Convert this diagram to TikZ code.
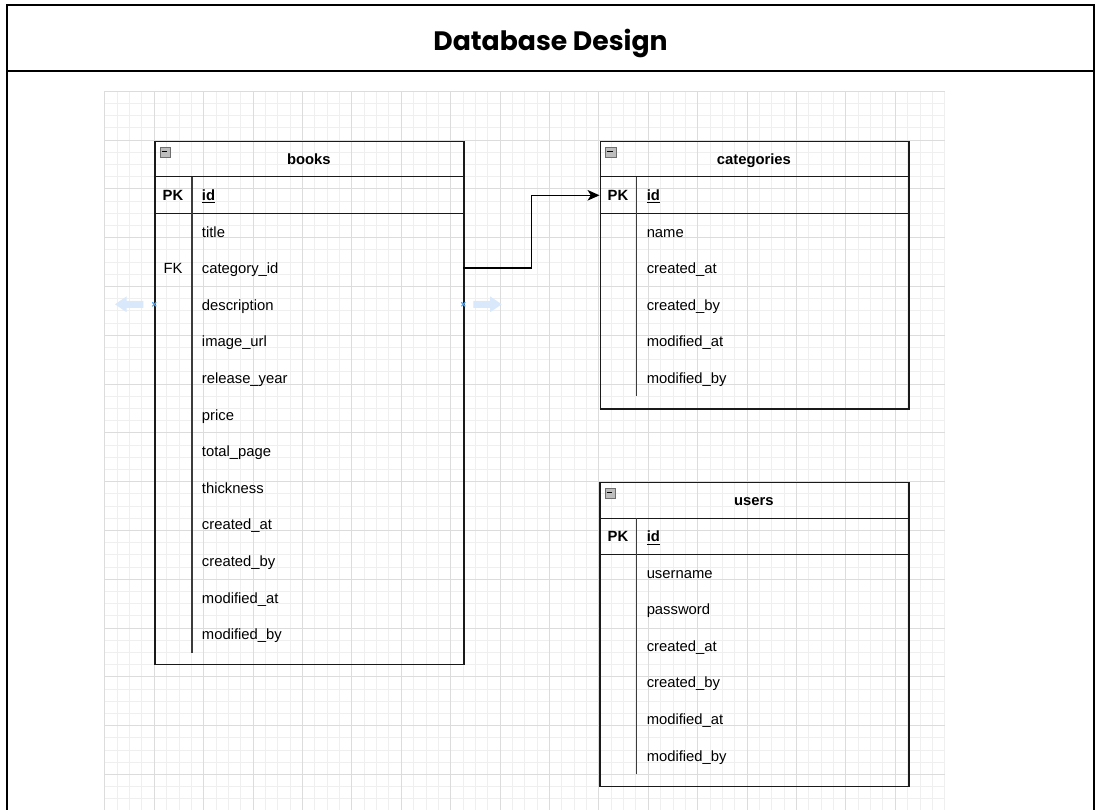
\documentclass[tikz,border=0pt]{standalone}
\usepackage{fontspec}
\setmainfont{Liberation Sans}
\newfontfamily\poppins{Poppins}
\usetikzlibrary{arrows.meta,calc}

\definecolor{gridminor}{HTML}{EFEFEF}
\definecolor{gridmajor}{HTML}{DCDCDC}
\definecolor{hoverblue}{HTML}{DAE8FC}
\definecolor{crossblue}{HTML}{4DA3F0}
\definecolor{linegray}{HTML}{1A1A1A}
\definecolor{iconfill}{HTML}{BDBDBD}
\definecolor{iconline}{HTML}{6E6E6E}

\tikzset{
  tbl/.style={draw=linegray, line width=1pt, anchor=north west, inner sep=0pt},
  sepline/.style={draw=linegray, line width=1pt},
  coldiv/.style={draw=linegray!85, line width=1.2pt},
  fld/.style={anchor=base west, inner sep=0pt, font=\fontsize{11.1pt}{13pt}\selectfont},
  hdr/.style={anchor=base, inner sep=0pt, font=\fontsize{11.1pt}{13pt}\selectfont\bfseries},
  keylbl/.style={anchor=base, inner sep=0pt, font=\fontsize{11.1pt}{13pt}\selectfont\bfseries},
  fklbl/.style={anchor=base, inner sep=0pt, font=\fontsize{11.1pt}{13pt}\selectfont},
  pkfld/.style={anchor=base west, inner sep=0pt, font=\fontsize{11.1pt}{13pt}\selectfont\bfseries},
  minusicon/.style={draw=iconline, fill=iconfill, line width=0.6pt, anchor=north west, inner sep=0pt, minimum width=8pt, minimum height=7.5pt},
  rel/.style={draw=black, line width=0.9pt, -{Stealth[length=9pt,width=8pt,inset=2.5pt]}},
  hover/.style={fill=hoverblue, draw=none},
  crossmark/.style={draw=crossblue, line width=0.8pt},
}

\begin{document}
\begin{tikzpicture}[x=0.75pt,y=-0.75pt]
\useasboundingbox (0,0) rectangle (1101,810);
\fill[white] (0,0) rectangle (1101,810);

% ---- grid ----
\foreach \i in {0,...,68} {
  \pgfmathsetmacro\xx{104.9+\i*12.35}
  \draw[gridminor, line width=0.75pt] (\xx,91.2) -- (\xx,810);
}
\foreach \j in {0,...,58} {
  \pgfmathsetmacro\yy{91.2+\j*12.2}
  \draw[gridminor, line width=0.75pt] (104.9,\yy) -- (944.7,\yy);
}
\foreach \i in {0,...,16} {
  \pgfmathsetmacro\xx{104.9+\i*49.4}
  \draw[gridmajor, line width=0.75pt] (\xx,91.2) -- (\xx,810);
}
\foreach \j in {0,...,14} {
  \pgfmathsetmacro\yy{91.2+\j*48.8}
  \draw[gridmajor, line width=0.75pt] (104.9,\yy) -- (944.7,\yy);
}

% ---- frame and title ----
\draw[black, line width=1.6pt] (7,810) -- (7,4.7) -- (1094,4.7) -- (1094,810);
\draw[black, line width=1.6pt] (7,71) -- (1094,71);
\node[anchor=base, inner sep=0pt, font=\poppins\bfseries\fontsize{20pt}{24pt}\selectfont] (title) at (550.5,50.5) {Database Design};

% ---- books table ----
\node[tbl, minimum width=231.75pt, minimum height=392.5pt] (books) at (154.3,140.7) {};
\draw[sepline] (154.3,176.7) -- (463.3,176.7);
\draw[sepline] (154.3,213.3) -- (463.3,213.3);
\draw[coldiv] (191.7,176.7) -- (191.7,652.5);
\node[minusicon] (books-icon) at (159.8,146.8) {};
\draw[black, line width=0.9pt] (161.6,151.8) -- (167.2,151.8);
\node[hdr] (books-title) at (308.8,164.3) {books};
\node[keylbl] (books-pk) at (173,200.7) {PK};
\node[pkfld] (books-id) at (201.7,200.7) {\underline{id}};
\foreach \f [count=\k] in {title,category\_id,description,image\_url,release\_year,price,total\_page,thickness,created\_at,created\_by,modified\_at,modified\_by} {
  \pgfmathsetmacro\yy{213.3+36.6*(\k-0.5)+5.5}
  \node[fld] (books-f\k) at (201.7,\yy) {\f};
}
\node[fklbl] (books-fk) at (173,273.7) {FK};

% ---- categories table ----
\node[tbl, minimum width=231.6pt, minimum height=200.7pt] (categories) at (599.5,140.7) {};
\draw[sepline] (599.5,176.7) -- (908.3,176.7);
\draw[sepline] (599.5,213.3) -- (908.3,213.3);
\draw[coldiv] (636.5,176.7) -- (636.5,396.3);
\node[minusicon] (cat-icon) at (605.1,146.8) {};
\draw[black, line width=0.9pt] (606.9,151.8) -- (612.5,151.8);
\node[hdr] (cat-title) at (753.9,164.3) {categories};
\node[keylbl] (cat-pk) at (618,200.7) {PK};
\node[pkfld] (cat-id) at (646.5,200.7) {\underline{id}};
\foreach \f [count=\k] in {name,created\_at,created\_by,modified\_at,modified\_by} {
  \pgfmathsetmacro\yy{213.3+36.6*(\k-0.5)+5.5}
  \node[fld] (cat-f\k) at (646.5,\yy) {\f};
}

% ---- users table ----
\node[tbl, minimum width=231.75pt, minimum height=228.2pt] (users) at (599.3,481.7) {};
\draw[sepline] (599.3,518.3) -- (908.3,518.3);
\draw[sepline] (599.3,554.3) -- (908.3,554.3);
\draw[coldiv] (636.5,518.3) -- (636.5,773.9);
\node[minusicon] (users-icon) at (604.8,487.8) {};
\draw[black, line width=0.9pt] (606.6,492.8) -- (612.2,492.8);
\node[hdr] (users-title) at (753.8,505.5) {users};
\node[keylbl] (users-pk) at (618,541.8) {PK};
\node[pkfld] (users-id) at (646.5,541.8) {\underline{id}};
\foreach \f [count=\k] in {username,password,created\_at,created\_by,modified\_at,modified\_by} {
  \pgfmathsetmacro\yy{554.3+36.6*(\k-0.5)+5.5}
  \node[fld] (users-f\k) at (646.5,\yy) {\f};
}

% ---- relation books.category_id -> categories.id ----
\coordinate (fkout) at (463.3,267.9);
\coordinate (pkin) at (599.5,195.3);
\draw[rel] (fkout) -- ++(68,0) |- (pkin);

% ---- hover handles ----
\fill[hover] (115,304.3) -- (126.7,296.3) -- (126.7,300.8) -- (143.3,300.8) -- (143.3,307.8) -- (126.7,307.8) -- (126.7,312.3) -- cycle;
\fill[hover] (501.7,304.3) -- (490,296.3) -- (490,300.8) -- (473.3,300.8) -- (473.3,307.8) -- (490,307.8) -- (490,312.3) -- cycle;
\draw[crossmark] (152.3,302.3) -- (156.3,306.3) (152.3,306.3) -- (156.3,302.3);
\draw[crossmark] (461.3,302.3) -- (465.3,306.3) (461.3,306.3) -- (465.3,302.3);
\end{tikzpicture}
\end{document}
